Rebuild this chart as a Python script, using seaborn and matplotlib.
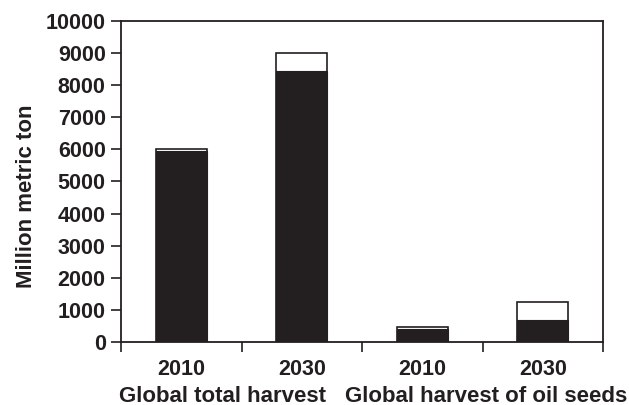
import numpy as np
import pandas as pd
import matplotlib
matplotlib.use("Agg")
import matplotlib.pyplot as plt
import seaborn as sns

# values (million metric ton)
bars = ['total_2010', 'total_2030', 'oil_2010', 'oil_2030']
years = ['2010', '2030', '2010', '2030']
groups = ['Global total harvest', 'Global harvest of oil seeds']
total = [6000, 9000, 480, 1250]
dark_part = [5950, 8450, 400, 690]

df = pd.DataFrame({'bar': bars, 'total': total, 'dark': dark_part})

sns.set_style("white")
plt.rcParams['font.family'] = ['Liberation Sans', 'DejaVu Sans']
ink = '#231f20'
fs = 15.5

fig = plt.figure(figsize=(6.29, 4.05), dpi=100)
ax = fig.add_axes([121 / 629, 63 / 405, 482 / 629, 321 / 405])

sns.barplot(data=df, x='bar', y='total', order=bars, color='white',
            edgecolor=ink, linewidth=1.2, width=0.42, ax=ax, saturation=1)
sns.barplot(data=df, x='bar', y='dark', order=bars, color=ink,
            edgecolor=ink, linewidth=0.8, width=0.42, ax=ax, saturation=1)

ax.set_xlim(-0.5, 3.5)
ax.set_ylim(0, 10000)
ax.set_yticks(np.arange(0, 10001, 1000))
ax.set_yticklabels([str(v) for v in range(0, 10001, 1000)],
                   fontsize=fs, fontweight='bold', color=ink)

ax.set_xticks(range(4))
ax.set_xticklabels(years, fontsize=fs, fontweight='bold', color=ink)
ax.tick_params(axis='x', which='major', length=0, pad=12)
ax.set_xticks(np.arange(-0.5, 4, 1), minor=True)
ax.tick_params(axis='x', which='minor', length=7, width=1.2, color=ink,
               direction='out', bottom=True)
ax.tick_params(axis='y', length=7, width=1.2, color=ink, direction='out',
               left=True, pad=4)

for s in ax.spines.values():
    s.set_visible(True)
    s.set_color(ink)
    s.set_linewidth(1.3)

ax.set_xlabel('')
ax.set_ylabel('Million metric ton', fontsize=16, fontweight='bold', color=ink)
ax.yaxis.set_label_coords(-(121 - 37) / 482, (342 - 196) / 321)

fig.text(222 / 629, 1 - 401.5 / 405, groups[0], ha='center', va='baseline',
         fontsize=16, fontweight='bold', color=ink)
fig.text(486 / 629, 1 - 401.5 / 405, groups[1], ha='center', va='baseline',
         fontsize=16, fontweight='bold', color=ink)

fig.savefig('out.png', dpi=100, facecolor='white')
